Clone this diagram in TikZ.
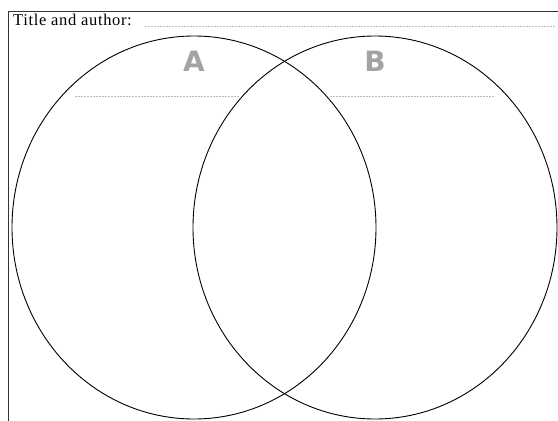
\documentclass[tikz,border=0pt]{standalone}
\usepackage{fontspec}
\usetikzlibrary{shapes.geometric}
\setmainfont{Liberation Serif}[LetterSpace=4]
\newfontfamily\labelfont{DejaVu Sans}
\definecolor{lettergray}{HTML}{A3A3A3}
\definecolor{dashgray}{HTML}{BBBBBB}
\begin{document}
\begin{tikzpicture}[x=1pt,y=-1pt,
  frame/.style={line width=1pt,black!80},
  venn/.style={draw=black,line width=0.9pt},
  rule/.style={dashgray,dashed,dash pattern=on 2pt off 1pt,line width=0.6pt},
  setlabel/.style={font=\labelfont\bfseries\fontsize{28}{28}\selectfont,text=lettergray,inner sep=0pt}]
\useasboundingbox (0,0) rectangle (558,421);
\coordinate (tl) at (8,11);
\coordinate (tr) at (558,11);
\coordinate (bl) at (8,421);
\draw[frame] (tr) -- (tl) -- (bl);
\node[anchor=base west,inner sep=0pt,font=\fontsize{16.5}{16.5}\selectfont] (title) at (13,25) {Title and author:};
\coordinate (t1) at (145,26);
\coordinate (t2) at (555,26);
\draw[rule] (t1) -- (t2);
\node[venn,ellipse,minimum width=364,minimum height=383,inner sep=0pt] (ca) at (194,227.5) {};
\node[venn,ellipse,minimum width=364,minimum height=383,inner sep=0pt] (cb) at (375,227.5) {};
\node[setlabel] (la) at (194,61) {A};
\node[setlabel] (lb) at (375,61) {B};
\coordinate (a1) at (75,96);
\coordinate (a2) at (239,96);
\coordinate (b1) at (330,96);
\coordinate (b2) at (495,96);
\draw[rule] (a1) -- (a2);
\draw[rule] (b1) -- (b2);
\end{tikzpicture}
\end{document}
